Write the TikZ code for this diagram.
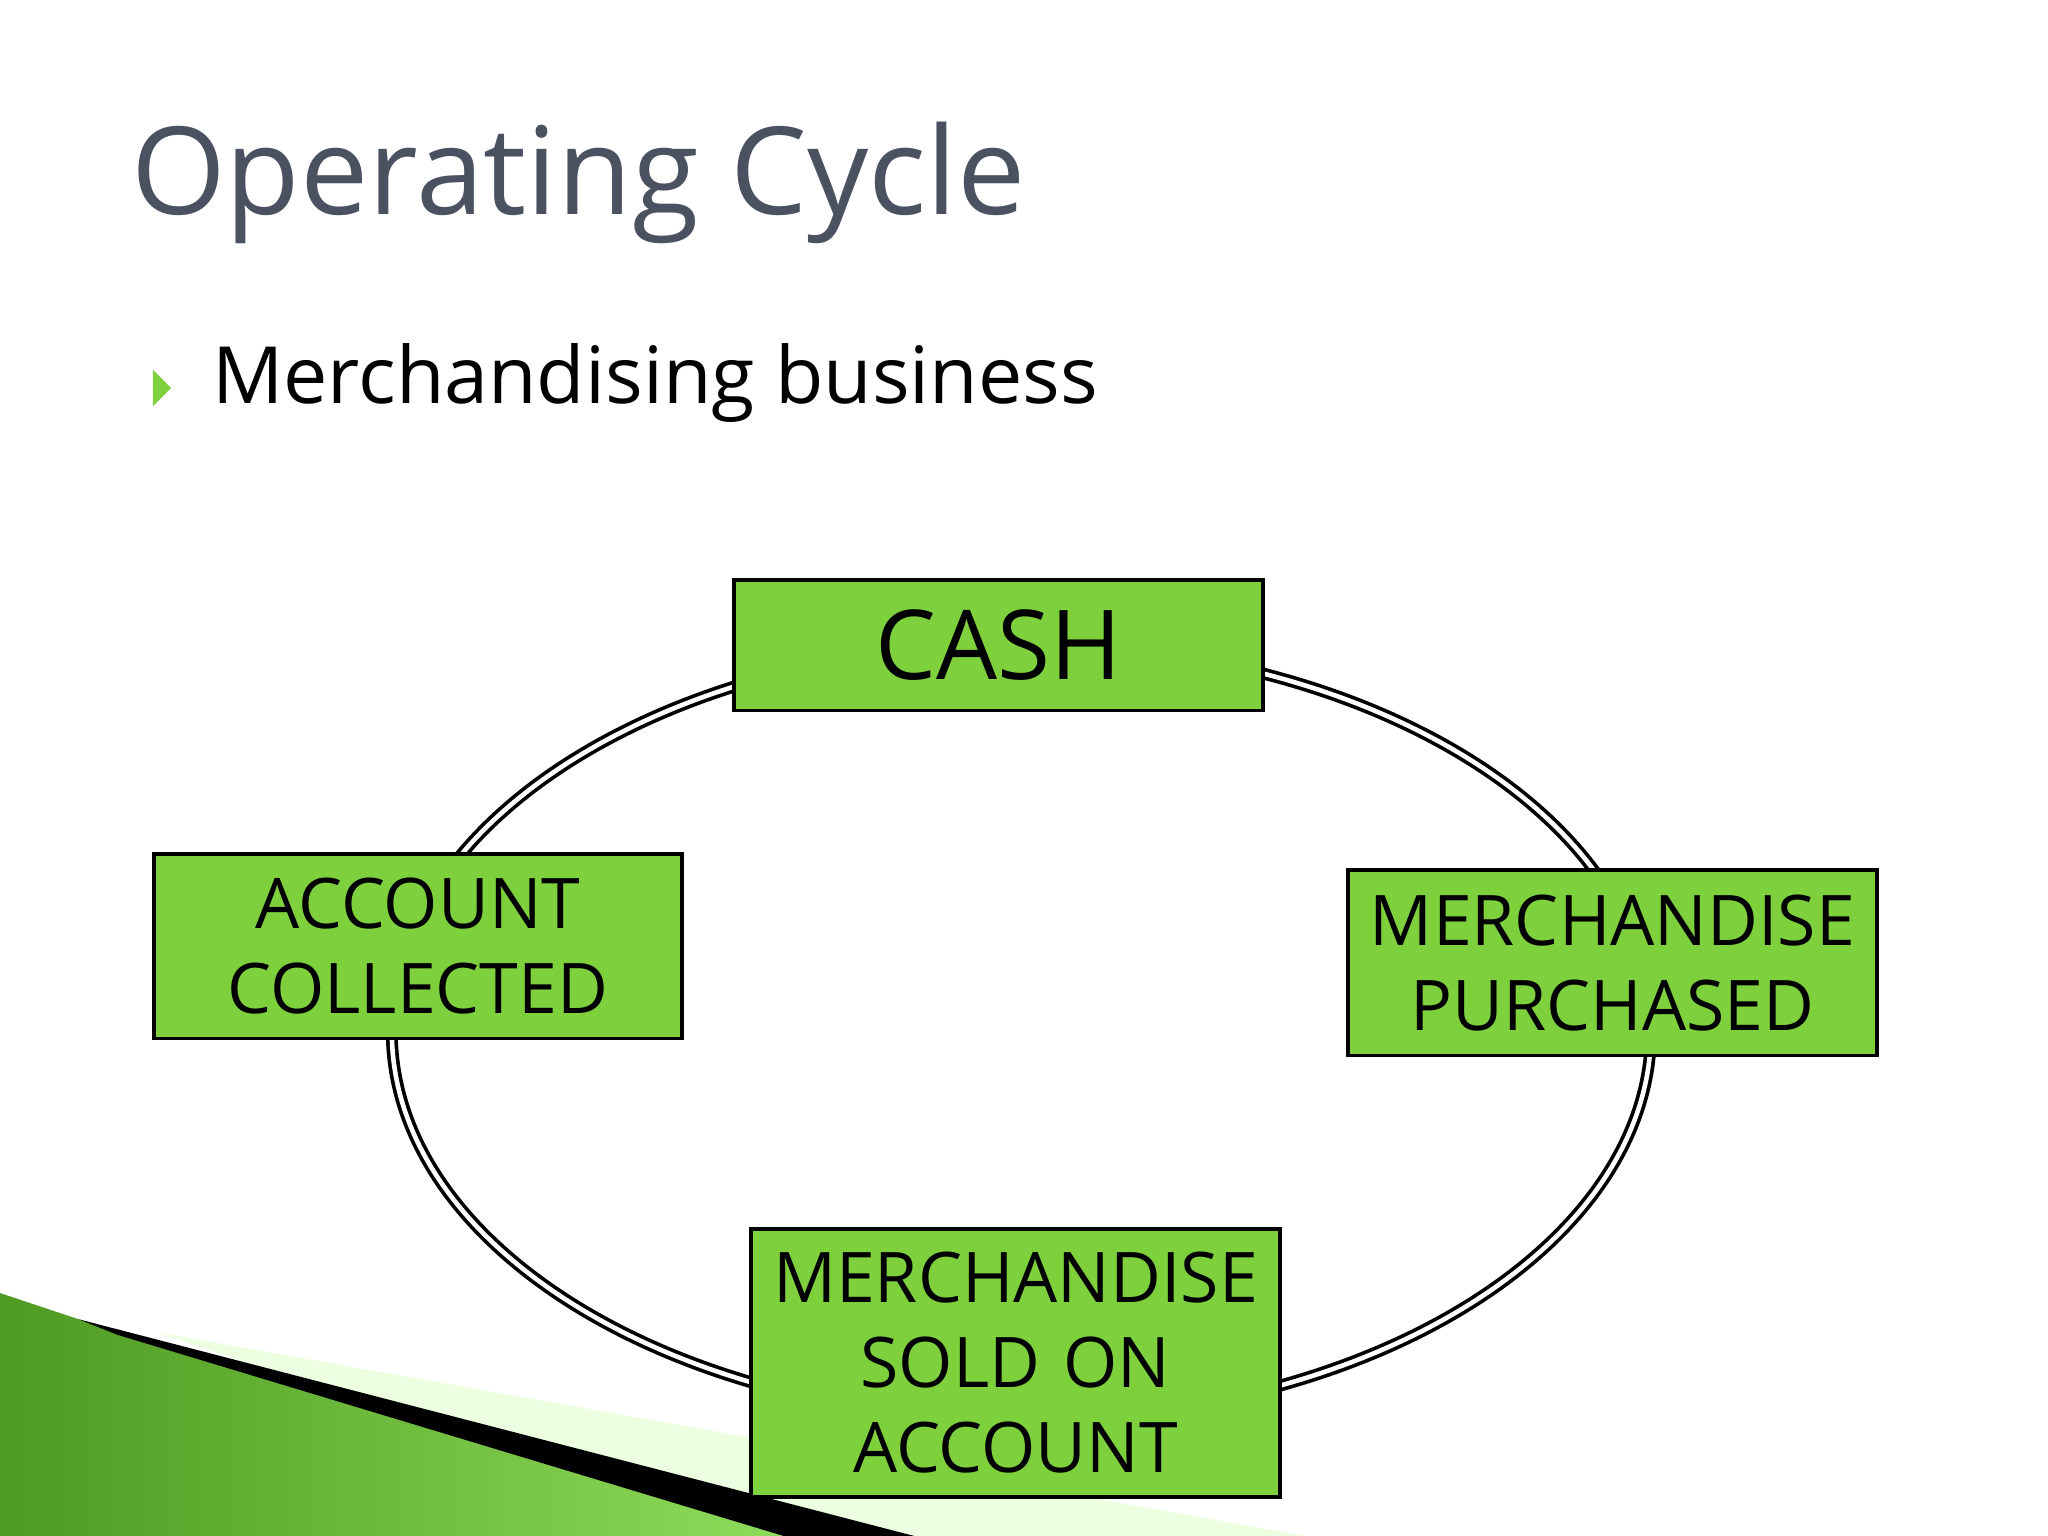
\documentclass[tikz,border=0pt]{standalone}
\usepackage{fontspec}
\setmainfont{Open Sans}
\begin{document}
\begin{tikzpicture}[x=0.01cm,y=-0.01cm,
  box/.style={draw=black,line width=0.8pt,fill=boxgreen,inner sep=0pt,align=center,font=\fontsize{15.2}{18.5}\selectfont},
  ring/.style={double=white,double distance=1pt,line width=0.8pt,draw=black}]
\definecolor{boxgreen}{HTML}{7ED13C}
\definecolor{titlegrey}{HTML}{4A5160}
\definecolor{dgreen}{HTML}{4E9A22}
\definecolor{lgreen}{HTML}{8EDC5A}
\useasboundingbox (0,0) rectangle (1568,1176);
\fill[white] (0,0) rectangle (1568,1176);
% decoration
\fill[green!50!lime!12] (120,1020) -- (1000,1176) -- (580,1176) -- cycle;
\shade[left color=dgreen,right color=lgreen] (0,990) -- (0,1176) -- (600,1176) -- (90,1020) -- cycle;
\fill[black] (60,1010) -- (700,1176) -- (600,1176) -- (90,1022) -- cycle;
% title
\node[anchor=west,text=titlegrey,font=\fontsize{26.5}{31}\selectfont] (title) at (88,140) {Operating Cycle};
\fill[boxgreen] (117,283) -- (131,297) -- (117,311) -- cycle;
\node[anchor=west,font=\fontsize{17.2}{21}\selectfont] (sub) at (150,293) {Merchandising business};
% ellipse
\draw[ring] (782,790) ellipse [x radius=482,y radius=297];
\node[box,text width=4.05cm,minimum height=1cm,font=\fontsize{21}{25}\selectfont] (cash) at (764.5,494) {CASH};
\node[box,text width=4.04cm,minimum height=1.41cm] (acc) at (320,724.5) {ACCOUNT\\COLLECTED};
\node[box,text width=4.05cm,minimum height=1.42cm] (pur) at (1234.5,737) {MERCHANDISE\\PURCHASED};
\node[box,text width=4.05cm,minimum height=2.05cm] (sold) at (777.5,1043.5) {MERCHANDISE\\SOLD ON\\ACCOUNT};
\end{tikzpicture}
\end{document}
